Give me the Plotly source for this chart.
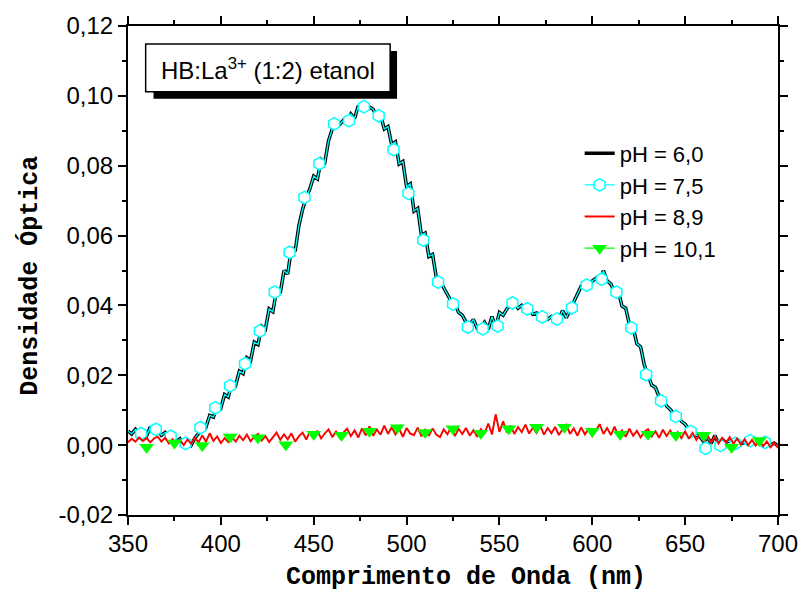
import plotly.graph_objects as go

# ---------------- data ----------------
wl = list(range(350, 701, 2))

ph60 = [0.0040, 0.0032, 0.0045, 0.0030, 0.0036, 0.0026, 0.0052, 0.0036, 0.0044, 0.0028,
        0.0036, 0.0020, 0.0028, 0.0010, 0.0018, 0.0002, 0.0012, 0.0000, 0.0020, 0.0034,
        0.0058, 0.0052, 0.0085, 0.0080, 0.0112, 0.0106, 0.0145, 0.0138, 0.0178, 0.0172,
        0.0212, 0.0205, 0.0250, 0.0242, 0.0295, 0.0288, 0.0340, 0.0332, 0.0390, 0.0382,
        0.0445, 0.0436, 0.0500, 0.0490, 0.0565, 0.0555, 0.0628, 0.0675, 0.0710, 0.0735,
        0.0770, 0.0762, 0.0818, 0.0810, 0.0872, 0.0905, 0.0922, 0.0918, 0.0930, 0.0922,
        0.0948, 0.0935, 0.0972, 0.0960, 0.0978, 0.0968, 0.0962, 0.0940, 0.0945, 0.0905,
        0.0912, 0.0860, 0.0868, 0.0805, 0.0812, 0.0740, 0.0748, 0.0670, 0.0678, 0.0600,
        0.0607, 0.0540, 0.0546, 0.0480, 0.0470, 0.0452, 0.0430, 0.0412, 0.0405, 0.0380,
        0.0372, 0.0352, 0.0345, 0.0360, 0.0335, 0.0338, 0.0352, 0.0332, 0.0368, 0.0338,
        0.0380, 0.0372, 0.0390, 0.0402, 0.0408, 0.0392, 0.0400, 0.0386, 0.0388, 0.0375,
        0.0378, 0.0364, 0.0368, 0.0360, 0.0368, 0.0358, 0.0362, 0.0385, 0.0365, 0.0388,
        0.0412, 0.0435, 0.0455, 0.0462, 0.0455, 0.0470, 0.0478, 0.0465, 0.0500, 0.0470,
        0.0462, 0.0438, 0.0442, 0.0398, 0.0392, 0.0345, 0.0338, 0.0290, 0.0282, 0.0230,
        0.0200, 0.0172, 0.0165, 0.0138, 0.0130, 0.0112, 0.0102, 0.0088, 0.0084, 0.0068,
        0.0060, 0.0045, 0.0040, 0.0028, 0.0024, 0.0010, 0.0022, 0.0005, 0.0028, 0.0004,
        0.0016, 0.0008, 0.0012, 0.0002, 0.0010, 0.0004, 0.0008, 0.0002, 0.0010, 0.0006,
        0.0010, 0.0003, 0.0008, 0.0000, 0.0006, -0.0002]

ph75 = list(ph60)

ph75_mark_x = [357, 365, 373, 381, 389, 397, 405, 413, 421, 429, 437, 445, 453, 461, 469,
               477, 485, 493, 501, 509, 517, 525, 533, 541, 549, 557, 565, 573, 581, 589,
               597, 605, 613, 621, 629, 637, 645, 653, 661, 669, 677, 685, 693]
ph75_mark_y = [0.0033, 0.0045, 0.0025, 0.0005, 0.0050, 0.0107, 0.0170, 0.0233, 0.0327,
               0.0438, 0.0552, 0.0709, 0.0806, 0.0920, 0.0929, 0.0969, 0.0943, 0.0846,
               0.0721, 0.0587, 0.0467, 0.0404, 0.0338, 0.0333, 0.0341, 0.0407, 0.0390,
               0.0367, 0.0361, 0.0393, 0.0458, 0.0475, 0.0438, 0.0336, 0.0202, 0.0127,
               0.0082, 0.0039, -0.0009, -0.0001, 0.0005, 0.0013, 0.0008]

ph89 = [0.0008, 0.0018, 0.0010, 0.0022, 0.0012, 0.0020, 0.0008, 0.0019, 0.0024, 0.0010,
        0.0021, 0.0005, 0.0017, 0.0003, 0.0014, 0.0000, 0.0016, 0.0004, 0.0021, 0.0008,
        0.0028, 0.0010, 0.0034, 0.0012, 0.0025, 0.0006, 0.0020, 0.0009, 0.0023, 0.0010,
        0.0027, 0.0014, 0.0030, 0.0011, 0.0024, 0.0032, 0.0013, 0.0026, 0.0009, 0.0023,
        0.0036, 0.0015, 0.0031, 0.0017, 0.0034, 0.0010, 0.0025, 0.0036, 0.0016, 0.0039,
        0.0021, 0.0041, 0.0019, 0.0034, 0.0045, 0.0023, 0.0039, 0.0021, 0.0036, 0.0047,
        0.0026, 0.0042, 0.0022, 0.0048, 0.0028, 0.0054, 0.0027, 0.0045, 0.0030, 0.0056,
        0.0032, 0.0051, 0.0031, 0.0047, 0.0024, 0.0049, 0.0033, 0.0029, 0.0050, 0.0025,
        0.0044, 0.0027, 0.0048, 0.0030, 0.0023, 0.0045, 0.0031, 0.0052, 0.0026, 0.0047,
        0.0032, 0.0049, 0.0027, 0.0043, 0.0024, 0.0046, 0.0034, 0.0062, 0.0031, 0.0088,
        0.0038, 0.0068, 0.0036, 0.0056, 0.0032, 0.0052, 0.0037, 0.0059, 0.0033, 0.0050,
        0.0035, 0.0055, 0.0030, 0.0049, 0.0034, 0.0052, 0.0029, 0.0045, 0.0058, 0.0032,
        0.0048, 0.0027, 0.0051, 0.0031, 0.0046, 0.0026, 0.0044, 0.0060, 0.0032, 0.0049,
        0.0029, 0.0053, 0.0026, 0.0042, 0.0024, 0.0047, 0.0027, 0.0041, 0.0022, 0.0038,
        0.0046, 0.0025, 0.0040, 0.0021, 0.0044, 0.0026, 0.0042, 0.0023, 0.0037, 0.0020,
        0.0040, 0.0018, 0.0035, 0.0015, 0.0031, 0.0012, 0.0028, 0.0008, 0.0024, 0.0005,
        0.0021, 0.0007, 0.0023, 0.0004, 0.0019, 0.0002, 0.0017, 0.0000, 0.0015, -0.0001,
        0.0013, -0.0003, 0.0011, -0.0006, 0.0008, -0.0008]

ph101 = list(ph89)

ph101_mark_x = [360, 375, 390, 405, 420, 435, 450, 465, 480, 495, 510, 525, 540, 555, 570,
                585, 600, 615, 630, 645, 660, 675, 690]
ph101_mark_y = [-0.0006, 0.0006, -0.0001, 0.0023, 0.0021, 0.0001, 0.0031, 0.0028, 0.0040,
                0.0050, 0.0036, 0.0047, 0.0034, 0.0047, 0.0051, 0.0051, 0.0040, 0.0031,
                0.0031, 0.0028, 0.0028, -0.0006, 0.0013]

x_ticks = [350, 400, 450, 500, 550, 600, 650, 700]
x_ticktext = ["350", "400", "450", "500", "550", "600", "650", "700"]
y_ticks = [-0.02, 0.0, 0.02, 0.04, 0.06, 0.08, 0.10, 0.12]
y_ticktext = ["-0,02", "0,00", "0,02", "0,04", "0,06", "0,08", "0,10", "0,12"]

labels = ["pH = 6,0", "pH = 7,5", "pH = 8,9", "pH = 10,1"]
x_title = "Comprimento de Onda (nm)"
y_title = "Densidade Óptica"
box_text = "HB:La<sup>3+</sup> (1:2) etanol"

# ---------------- figure ----------------
CYAN = "#00ffff"
RED = "#ff0000"
GREEN = "#00ff00"
FONT = "Liberation Sans, Arial, sans-serif"
MONO = "Liberation Mono, Courier New, monospace"

fig = go.Figure()

fig.add_trace(go.Scatter(x=wl, y=ph60, mode="lines", name=labels[0],
                         line=dict(color="black", width=3.5), legendrank=1))
fig.add_trace(go.Scatter(x=wl, y=ph75, mode="lines", showlegend=False,
                         line=dict(color=CYAN, width=1.3)))
fig.add_trace(go.Scatter(x=ph75_mark_x, y=ph75_mark_y, mode="markers", showlegend=False,
                         marker=dict(symbol="hexagon", size=12.5, color="white",
                                     line=dict(color=CYAN, width=1.5))))
fig.add_trace(go.Scatter(x=[None], y=[None], mode="lines+markers", name=labels[1],
                         line=dict(color=CYAN, width=1.3), legendrank=2,
                         marker=dict(symbol="hexagon", size=12.5, color="white",
                                     line=dict(color=CYAN, width=1.5))))
fig.add_trace(go.Scatter(x=wl, y=ph101, mode="lines", showlegend=False,
                         line=dict(color=GREEN, width=1)))
fig.add_trace(go.Scatter(x=wl, y=ph89, mode="lines", name=labels[2],
                         line=dict(color=RED, width=1.9), legendrank=3))
fig.add_trace(go.Scatter(x=ph101_mark_x, y=ph101_mark_y, mode="markers", showlegend=False,
                         marker=dict(symbol="triangle-down", size=13, color=GREEN,
                                     line=dict(width=0))))
fig.add_trace(go.Scatter(x=[None], y=[None], mode="lines+markers", name=labels[3],
                         line=dict(color=GREEN, width=1.3), legendrank=4,
                         marker=dict(symbol="triangle-down", size=13, color=GREEN,
                                     line=dict(width=0))))

# pixel -> paper helpers (plot area 128..790 x 24..515)
PW, PH = 662.0, 491.0
def px_x(p):
    return (p - 128) / PW
def px_y(p):
    return (515 - p) / PH

# sample label box with shadow
fig.add_shape(type="rect", xref="paper", yref="paper",
              x0=px_x(154), x1=px_x(402), y0=px_y(97), y1=px_y(49),
              fillcolor="black", line=dict(width=0), layer="above")
fig.add_shape(type="rect", xref="paper", yref="paper",
              x0=px_x(146), x1=px_x(395), y0=px_y(90), y1=px_y(42),
              fillcolor="white", line=dict(color="black", width=1.5), layer="above")
fig.add_annotation(xref="paper", yref="paper", x=px_x(271), y=px_y(67),
                   xanchor="center", yanchor="middle",
                   text=box_text, showarrow=False,
                   font=dict(family=FONT, size=24, color="black"))

# axis titles
fig.add_annotation(xref="paper", yref="paper", x=px_x(472), y=px_y(578),
                   xanchor="center", yanchor="middle", showarrow=False,
                   text="<b>" + x_title + "</b>",
                   font=dict(family=MONO, size=25, color="black"))
fig.add_annotation(xref="paper", yref="paper", x=px_x(28), y=px_y(275),
                   xanchor="center", yanchor="middle", showarrow=False, textangle=-90,
                   text="<b>" + y_title + "</b>",
                   font=dict(family=MONO, size=25, color="black"))

axis_common = dict(
    showline=True, linecolor="black", linewidth=2, mirror="allticks",
    ticks="outside", ticklen=8, tickwidth=2, tickcolor="black",
    showgrid=False, zeroline=False,
    tickfont=dict(family=FONT, size=24, color="black"),
)

fig.update_xaxes(range=[350, 700], tickmode="array", tickvals=x_ticks, ticktext=x_ticktext,
                 ticklabelstandoff=-2,
                 minor=dict(ticks="outside", ticklen=4, tickwidth=2, tickcolor="black",
                            tick0=350, dtick=25, showgrid=False),
                 **axis_common)
fig.update_yaxes(range=[-0.02, 0.12], tickmode="array", tickvals=y_ticks, ticktext=y_ticktext,
                 minor=dict(ticks="outside", ticklen=4, tickwidth=2, tickcolor="black",
                            tick0=0, dtick=0.01, showgrid=False),
                 **axis_common)

fig.update_layout(
    width=810, height=596, autosize=False,
    margin=dict(l=128, r=20, t=24, b=81),
    paper_bgcolor="white", plot_bgcolor="white",
    legend=dict(x=px_x(588), y=px_y(131), xanchor="left", yanchor="top",
                bgcolor="rgba(0,0,0,0)", borderwidth=0,
                font=dict(family=FONT, size=22, color="black"),
                tracegroupgap=0),
)

fig.write_html("out.html")
